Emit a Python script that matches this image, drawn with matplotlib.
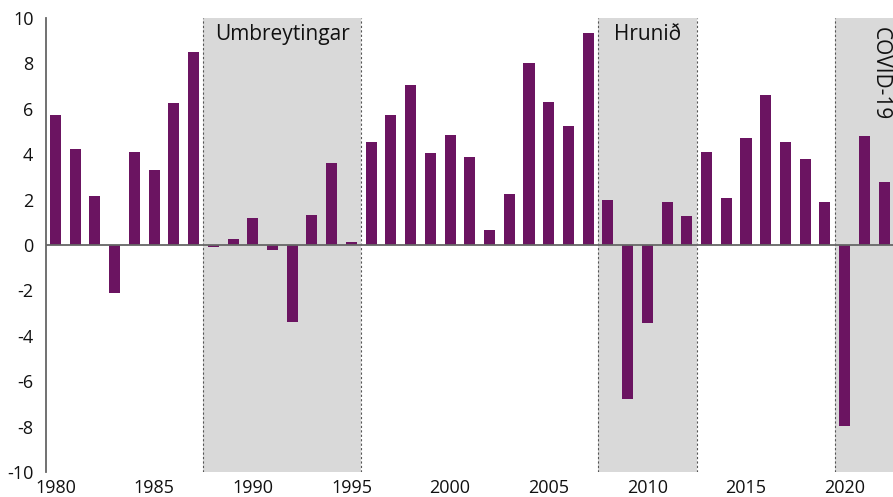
import numpy as np
import matplotlib.pyplot as plt

# data
years = np.arange(1980, 2023)
growth = [5.73, 4.25, 2.15, -2.13, 4.11, 3.29, 6.26, 8.52,
          -0.09, 0.28, 1.18, -0.23, -3.38, 1.31, 3.6, 0.12,
          4.55, 5.73, 7.07, 4.04, 4.86, 3.89, 0.68, 2.26, 8.02, 6.32, 5.22, 9.34,
          2.0, -6.77, -3.42, 1.88, 1.28,
          4.11, 2.07, 4.73, 6.6, 4.54, 3.81, 1.91,
          -7.99, 4.79, 2.78]

periods = ["Umbreytingar", "Hrunið", "COVID-19"]
period_start = [1987.5, 2007.5, 2019.5]
period_end = [1995.5, 2012.5, 2023]

plt.rcParams['font.family'] = ['Open Sans', 'DejaVu Sans']
plt.rcParams['axes.unicode_minus'] = False

fig = plt.figure(figsize=(8.93, 4.97), dpi=100)
ax = fig.add_axes([0.0515, 0.0503, 0.9485, 0.9135])

for name, s, e in zip(periods, period_start, period_end):
    ax.axvspan(s, e, color="#d9d9d9", zorder=0, lw=0)
    ax.axvline(s, color="#555555", ls=(0, (2, 2)), lw=0.8, zorder=1)
    if e < 2022:
        ax.axvline(e, color="#555555", ls=(0, (2, 2)), lw=0.8, zorder=1)

ax.text(1991.5, 9.05, periods[0], ha="center", va="baseline", fontsize=15, color="#111111")
ax.text(2010, 9.05, periods[1], ha="center", va="baseline", fontsize=15, color="#111111")
ax.text(2021.8, 9.6, periods[2], ha="center", va="top", rotation=-90, fontsize=15, color="#111111")

ax.bar(years, growth, width=0.56, color="#6b1461", zorder=2)
ax.axhline(0, color="#666666", lw=1.3, zorder=3)

ax.set_xlim(1979.52, 2022.45)
ax.set_ylim(-10, 10)
ax.set_yticks(np.arange(-10, 11, 2))
ax.set_xticks(np.arange(1980, 2021, 5))

for side in ["top", "right", "bottom"]:
    ax.spines[side].set_visible(False)
ax.spines["left"].set_color("#666666")
ax.spines["left"].set_linewidth(1.3)
ax.tick_params(axis="both", length=0, labelsize=13, colors="#111111")
ax.tick_params(axis="y", pad=9)
ax.tick_params(axis="x", pad=5)

plt.savefig("out.png", dpi=100)
